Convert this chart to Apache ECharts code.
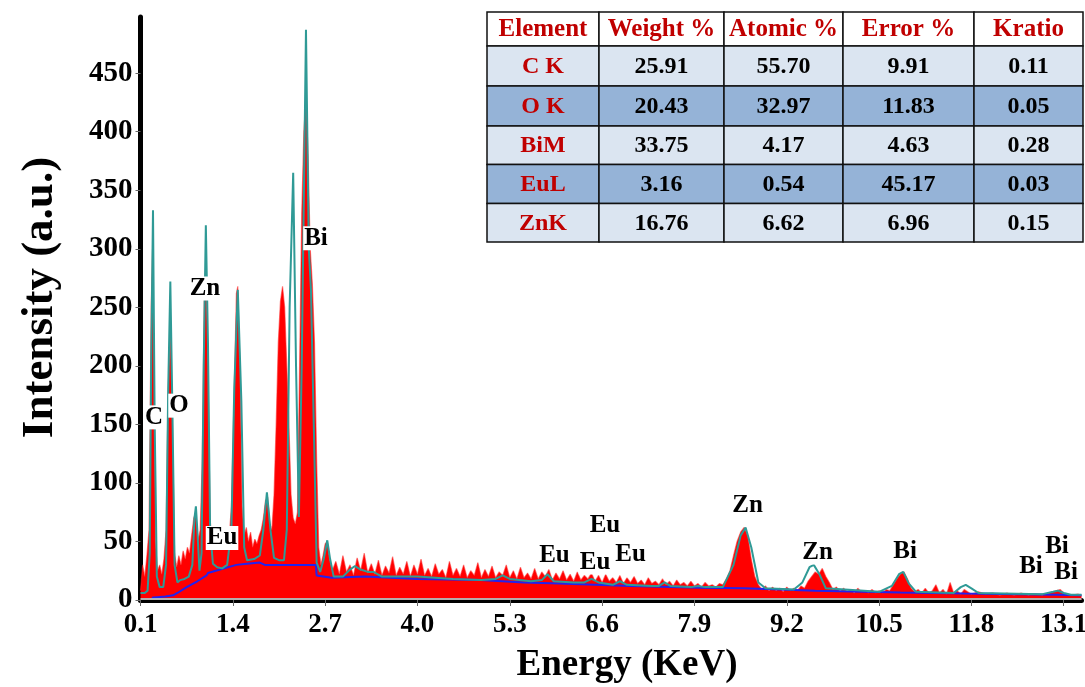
<!DOCTYPE html>
<html><head><meta charset="utf-8">
<script src="https://cdn.jsdelivr.net/npm/echarts@6/dist/echarts.min.js"></script>
<style>html,body{margin:0;padding:0;background:#fff}#c{width:1085px;height:687px}</style>
</head><body><div id="c"></div>
<script>
// ---------- DATA ----------
// measured spectrum [energy keV, intensity]
const measuredSpectrum = [
 [0.10,8],[0.13,30],[0.16,20],[0.19,38],[0.22,60],[0.25,250],[0.27,300],[0.29,200],[0.31,50],[0.34,25],
 [0.37,30],[0.40,22],[0.43,35],[0.46,60],[0.49,180],[0.52,230],[0.55,150],[0.58,40],[0.61,28],[0.64,38],
 [0.67,30],[0.70,42],[0.73,35],[0.76,45],[0.79,40],[0.82,55],[0.85,70],[0.88,75],[0.91,50],[0.94,60],
 [0.97,120],[1.00,270],[1.02,285],[1.05,200],[1.08,70],[1.11,45],[1.14,55],[1.17,48],[1.20,60],[1.23,50],
 [1.26,58],[1.29,52],[1.32,62],[1.35,55],[1.38,80],[1.42,180],[1.45,262],[1.47,268],[1.50,200],[1.53,80],
 [1.56,55],[1.59,62],[1.62,50],[1.65,58],[1.68,45],[1.71,52],[1.74,48],[1.77,55],[1.80,60],[1.83,70],
 [1.86,85],[1.89,88],[1.92,65],[1.95,60],[1.98,90],[2.01,150],[2.04,220],[2.07,255],[2.10,268],[2.13,250],
 [2.16,200],[2.19,150],[2.22,90],[2.25,70],[2.28,65],[2.31,75],[2.34,200],[2.37,330],[2.40,400],[2.43,430],
 [2.46,380],[2.49,300],[2.52,270],[2.55,220],[2.58,120],[2.61,45],[2.64,30],[2.67,38],[2.70,48],[2.73,50],
 [2.76,35],[2.80,25],[2.85,33],[2.90,22],[2.95,38],[3.00,24],[3.05,30],[3.10,21],[3.15,36],[3.20,25],
 [3.25,40],[3.30,23],[3.35,31],[3.40,22],[3.45,34],[3.50,21],[3.55,29],[3.60,23],[3.65,37],[3.70,21],
 [3.75,28],[3.80,22],[3.85,33],[3.90,20],[3.95,30],[4.00,22],[4.05,35],[4.10,21],[4.15,27],[4.20,20],
 [4.25,31],[4.30,22],[4.35,26],[4.40,19],[4.45,33],[4.50,21],[4.55,27],[4.60,20],[4.65,30],[4.70,19],
 [4.75,25],[4.80,21],[4.85,32],[4.90,19],[4.95,26],[5.00,20],[5.05,29],[5.10,19],[5.15,24],[5.20,21],
 [5.25,30],[5.30,19],[5.35,25],[5.40,18],[5.45,28],[5.50,19],[5.55,23],[5.60,18],[5.65,27],[5.70,18],
 [5.75,24],[5.80,20],[5.85,26],[5.90,17],[5.95,23],[6.00,18],[6.05,25],[6.10,17],[6.15,22],[6.20,16],
 [6.25,24],[6.30,17],[6.35,21],[6.40,18],[6.45,23],[6.50,16],[6.55,21],[6.60,15],[6.65,22],[6.70,16],
 [6.75,19],[6.80,15],[6.85,21],[6.90,14],[6.95,19],[7.00,15],[7.05,20],[7.10,14],[7.15,17],[7.20,13],
 [7.25,19],[7.30,14],[7.35,16],[7.40,13],[7.45,18],[7.50,13],[7.55,16],[7.60,12],[7.65,17],[7.70,13],
 [7.75,15],[7.80,12],[7.85,16],[7.90,12],[7.95,14],[8.00,11],[8.05,15],[8.10,12],[8.15,13],[8.20,11],
 [8.25,14],[8.30,13],[8.35,18],[8.40,25],[8.45,38],[8.50,50],[8.55,58],[8.60,62],[8.65,55],[8.70,35],
 [8.75,20],[8.80,13],[8.85,9],[8.90,12],[8.95,8],[9.00,11],[9.05,8],[9.10,10],[9.15,7],[9.20,11],
 [9.25,8],[9.30,10],[9.35,8],[9.40,12],[9.45,10],[9.50,16],[9.55,20],[9.60,24],[9.65,22],[9.70,27],
 [9.75,20],[9.80,15],[9.85,9],[9.90,11],[9.95,7],[10.0,10],[10.05,7],[10.1,9],[10.15,6],[10.2,10],
 [10.25,7],[10.3,8],[10.35,6],[10.4,9],[10.45,6],[10.5,8],[10.55,6],[10.6,9],[10.65,8],[10.7,13],
 [10.75,18],[10.8,22],[10.85,24],[10.9,18],[10.95,10],[11.0,7],[11.05,9],[11.1,6],[11.15,10],[11.2,6],
 [11.25,8],[11.3,13],[11.35,6],[11.4,9],[11.45,5],[11.5,15],[11.55,6],[11.6,8],[11.65,5],[11.7,9],
 [11.8,5],[11.9,7],[12.0,5],[12.1,6],[12.2,4],[12.3,6],[12.4,4],[12.5,6],[12.6,4],[12.7,5],
 [12.8,4],[12.9,6],[13.0,8],[13.05,9],[13.1,6],[13.2,4],[13.3,5],[13.35,4]
];
// fitted spectrum (teal line)
const fittedSpectrum = [
 [0.10,6],[0.16,6],[0.20,8],[0.23,40],[0.25,200],[0.276,333],[0.30,150],[0.33,20],[0.37,11],[0.42,11],
 [0.46,30],[0.49,180],[0.52,272],[0.55,160],[0.58,30],[0.62,15],[0.66,17],[0.72,18],[0.78,20],[0.83,30],
 [0.86,70],[0.88,80],[0.90,60],[0.93,25],[0.96,40],[0.99,200],[1.02,320],[1.05,220],[1.08,60],[1.12,31],
 [1.18,28],[1.25,27],[1.32,30],[1.38,60],[1.42,180],[1.47,265],[1.52,170],[1.56,45],[1.60,34],[1.70,35],
 [1.78,38],[1.83,60],[1.88,92],[1.93,60],[1.98,36],[2.05,34],[2.12,34],[2.16,60],[2.20,250],[2.25,365],
 [2.29,200],[2.33,71],[2.37,200],[2.43,487],[2.47,300],[2.50,265],[2.54,150],[2.58,32],[2.63,24],[2.68,35],
 [2.73,51],[2.77,35],[2.82,20],[2.95,20],[3.05,26],[3.12,29],[3.2,26],[3.3,24],[3.38,24],[3.5,20],
 [4.0,20],[4.5,18],[4.9,17],[5.1,18],[5.2,21],[5.3,18],[5.6,16],[5.75,17],[5.83,22],[5.92,16],
 [6.2,15],[6.35,15],[6.45,18],[6.55,15],[6.75,13],[6.85,16],[6.95,13],[7.3,12],[7.4,12],[7.48,15],
 [7.56,12],[7.85,11],[7.95,12],[8.05,11],[8.3,11],[8.45,30],[8.55,55],[8.62,62],[8.7,45],[8.8,15],
 [8.9,10],[9.3,9],[9.42,15],[9.52,28],[9.58,30],[9.66,22],[9.75,10],[10.5,7],[10.68,12],[10.78,22],
 [10.84,24],[10.92,14],[11.02,7],[11.55,6],[11.65,11],[11.72,13],[11.8,10],[11.9,6],[12.8,5],[12.95,7],
 [13.02,8],[13.1,6],[13.2,4.5],[13.35,4.5]
];
// background (blue line)
const backgroundLine = [
 [0.26,2],[0.45,3],[0.56,4],[0.62,6],[0.75,11],[0.9,16],[1.03,21],[1.05,23],[1.22,26],[1.45,30],
 [1.6,31],[1.78,32],[1.85,30],[2.1,30],[2.57,30],[2.58,21],[2.79,19],[3.26,20],[4.0,18],[4.88,17],
 [5.5,15],[6.0,14],[7.0,12],[8.0,10.5],[8.6,10],[9.6,8],[10.8,6.5],[11.7,5.5],[13.0,4.5],[13.35,4]
];
// peak annotations
const peakLabels = ['C','O','Zn','Bi','Eu','Eu','Eu','Eu','Eu','Zn','Zn','Bi','Bi','Bi','Bi'];
const peakLabelEnergy = [0.29,0.642,1.008,2.571,1.248,5.929,6.5,7.001,6.64,8.648,9.634,10.865,12.639,13.005,13.132];
const peakLabelIntensity = [156,166,266,309,53,37.6,32,38.9,63.2,80.6,40.6,41,28.2,45.3,23.1];
// quantification table
const tableHeader = ['Element','Weight %','Atomic %','Error %','Kratio'];
const tableElements = ['C K','O K','BiM','EuL','ZnK'];
const weightPct = ['25.91','20.43','33.75','3.16','16.76'];
const atomicPct = ['55.70','32.97','4.17','0.54','6.62'];
const errorPct = ['9.91','11.83','4.63','45.17','6.96'];
const kRatio = ['0.11','0.05','0.28','0.03','0.15'];

// ---------- LAYOUT ----------
const SERIF = '"Liberation Serif","Times New Roman",serif';
const colEdges = [487, 599, 724, 843, 974, 1083];
const rowEdges = [12, 46, 86, 126, 164.5, 203.5, 242];
const rowFills = ['#ffffff','#dbe5f1','#95b3d7','#dbe5f1','#95b3d7','#dbe5f1'];

const graphics = [];
const rows = [tableHeader].concat(tableElements.map((e,i)=>[e,weightPct[i],atomicPct[i],errorPct[i],kRatio[i]]));
rows.forEach((r,ri)=>{
  r.forEach((txt,ci)=>{
    const x0 = colEdges[ci], x1 = colEdges[ci+1], y0 = rowEdges[ri], y1 = rowEdges[ri+1];
    graphics.push({type:'rect', shape:{x:x0,y:y0,width:x1-x0,height:y1-y0}, z:10,
      style:{fill:rowFills[ri], stroke:'#111', lineWidth:1.5}});
    const red = (ri===0 || ci===0);
    graphics.push({type:'text', z:11, style:{text:txt, x:(x0+x1)/2, y:(y0+y1)/2+1,
      align:'center', verticalAlign:'middle',
      font:'bold ' + (ri===0 ? 25 : 24) + 'px '+SERIF, fill: red ? '#c00000' : '#000'}});
  });
});

const chart = echarts.init(document.getElementById('c'), null, {renderer:'canvas'});
chart.setOption({
  animation:false,
  backgroundColor:'#fff',
  grid:{left:140.5, right:3.5, top:17, bottom:87, containLabel:false, outerBoundsMode:'none'},
  xAxis:{type:'value', min:0.1, max:13.35, interval:1.3,
    name:'Energy (KeV)', nameLocation:'middle', nameGap:47,
    nameTextStyle:{fontFamily:SERIF, fontWeight:'bold', fontSize:37, color:'#000', padding:[0,0,0,32]},
    axisLine:{show:true, onZero:false, lineStyle:{color:'#000', width:5}},
    axisTick:{show:true, inside:false, length:6, lineStyle:{color:'#666', width:1}},
    axisLabel:{fontFamily:SERIF, fontWeight:'bold', fontSize:27, color:'#000', margin:12,
      showMaxLabel:false, formatter:v=>Number(v).toFixed(1)},
    splitLine:{show:false}},
  yAxis:{type:'value', min:0, max:498, interval:50,
    name:'Intensity (a.u.)', nameLocation:'middle', nameGap:78, nameRotate:90,
    nameTextStyle:{fontFamily:SERIF, fontWeight:'bold', fontSize:45, color:'#000', padding:[0,0,0,22]},
    axisLine:{show:true, lineStyle:{color:'#000', width:5}},
    axisTick:{show:true, inside:false, length:5, lineStyle:{color:'#666', width:1}},
    axisLabel:{fontFamily:SERIF, fontWeight:'bold', fontSize:29, color:'#000', margin:8, showMaxLabel:false},
    splitLine:{show:false}},
  graphic:graphics,
  series:[
    {type:'line', data:measuredSpectrum, symbol:'none', z:2,
     lineStyle:{color:'rgba(255,40,40,0.55)', width:1.2}, areaStyle:{color:'#ff0000', opacity:1},
     markLine:{silent:true, symbol:'none', label:{show:false},
       lineStyle:{color:'#9ee6e6', width:1.5, type:'solid'}, data:[{yAxis:1}]}},
    {type:'line', data:backgroundLine, symbol:'none', z:3,
     lineStyle:{color:'#2222ee', width:2}},
    {type:'line', data:fittedSpectrum, symbol:'none', z:4,
     lineStyle:{color:'#2f9a96', width:2}},
    {type:'scatter', z:6, symbolSize:0, itemStyle:{opacity:1},
     data:peakLabels.map((n,i)=>({name:n, value:[peakLabelEnergy[i], peakLabelIntensity[i]]})),
     label:{show:true, position:'inside', formatter:p=>p.name, fontFamily:SERIF, fontWeight:'bold',
       fontSize:25, color:'#000', opacity:1, backgroundColor:'#fff', padding:[0,1], lineHeight:24}}
  ]
});
</script></body></html>
